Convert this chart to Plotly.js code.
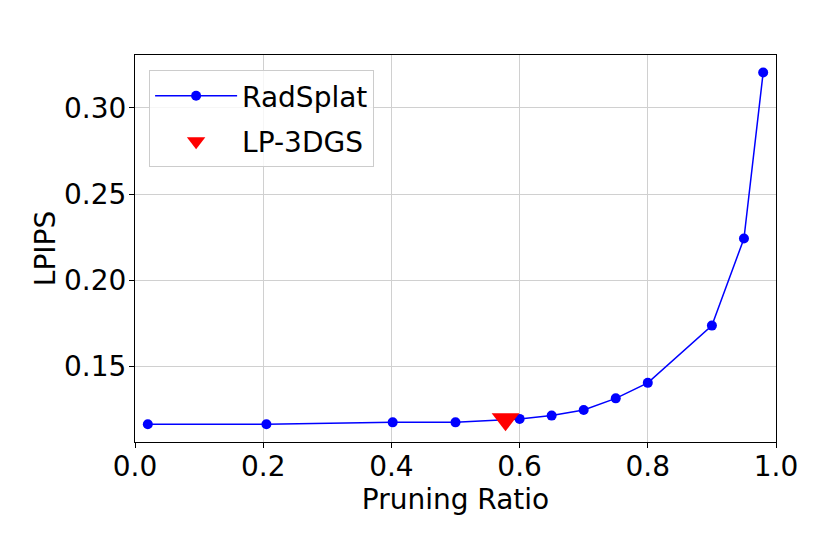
<!DOCTYPE html>
<html>
<head>
<meta charset="utf-8">
<script src="https://cdn.plot.ly/plotly-3.0.1.min.js"></script>
<style>html,body{margin:0;padding:0;background:#fff;}#chart{width:830px;height:554px;}</style>
</head>
<body>
<div id="chart"></div>
<script>
// Data
const radsplatRatio = [0.02, 0.205, 0.402, 0.50, 0.60, 0.65, 0.70, 0.75, 0.80, 0.90, 0.95, 0.98];
const radsplatLPIPS = [0.1166, 0.1166, 0.1177, 0.1177, 0.1197, 0.1216, 0.1249, 0.1316, 0.1406, 0.1738, 0.2243, 0.3206];
const lp3dgsRatio = [0.578];
const lp3dgsLPIPS = [0.1195];
const xTicks = [0.0, 0.2, 0.4, 0.6, 0.8, 1.0];
const yTicks = [0.15, 0.20, 0.25, 0.30];

const FONT = 'DejaVu Sans, sans-serif';
const FS = 28;

const traces = [
  {
    x: radsplatRatio, y: radsplatLPIPS, name: 'RadSplat',
    type: 'scatter', mode: 'lines+markers', legendgroup: 'a',
    line: {color: '#0000ff', width: 1.5},
    marker: {color: '#0000ff', size: 10, symbol: 'circle'}
  },
  {
    x: lp3dgsRatio, y: lp3dgsLPIPS, name: 'LP-3DGS',
    type: 'scatter', mode: 'markers', legendgroup: 'b',
    marker: {color: '#ff0000', size: 24, symbol: 'triangle-down'}
  }
];

const axisCommon = {
  showline: true, mirror: true, linecolor: '#000', linewidth: 1,
  ticks: 'outside', ticklen: 5, tickwidth: 1, tickcolor: '#000',
  showgrid: true, gridcolor: '#d0d0d0', gridwidth: 1,
  zeroline: false,
  tickfont: {family: FONT, size: FS, color: '#000'}
};

const layout = {
  width: 830, height: 554,
  margin: {l: 135, r: 54, t: 55, b: 112},
  paper_bgcolor: '#fff', plot_bgcolor: '#fff',
  font: {family: FONT, color: '#000'},
  showlegend: true,
  legend: {
    x: 0.022, y: 0.961, xanchor: 'left', yanchor: 'top',
    bgcolor: 'rgba(255,255,255,0.8)', bordercolor: '#cccccc', borderwidth: 1,
    font: {family: FONT, size: FS, color: '#000'},
    tracegroupgap: 6, itemwidth: 82
  },
  xaxis: Object.assign({}, axisCommon, {
    range: [0, 1], tickvals: xTicks, tickformat: '.1f', ticklabelstandoff: -6,
    title: {text: 'Pruning Ratio', font: {family: FONT, size: FS, color: '#000'}, standoff: 0}
  }),
  yaxis: Object.assign({}, axisCommon, {
    range: [0.1063, 0.3307], tickvals: yTicks, tickformat: '.2f', ticklabelstandoff: -3,
    title: {text: 'LPIPS', font: {family: FONT, size: FS, color: '#000'}, standoff: 0}
  })
};

Plotly.newPlot('chart', traces, layout, {displayModeBar: false, staticPlot: true});
</script>
</body>
</html>
